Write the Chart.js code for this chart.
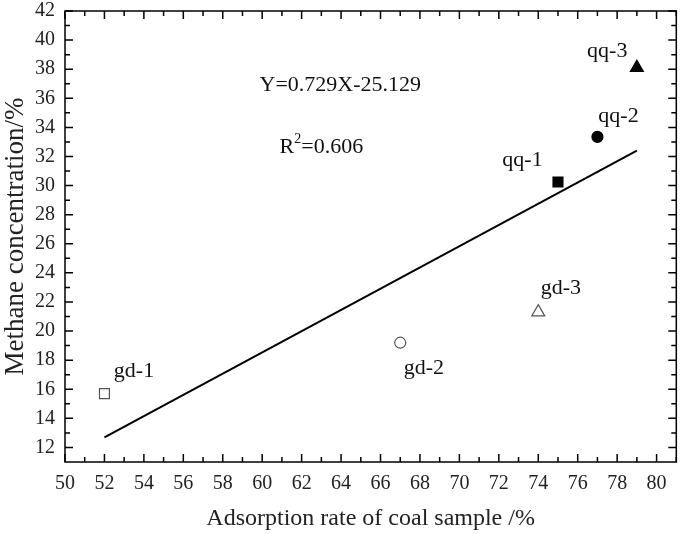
<!DOCTYPE html>
<html>
<head>
<meta charset="utf-8">
<script src="https://cdn.jsdelivr.net/npm/chart.js@4.4.0/dist/chart.umd.min.js"></script>
<style>
  html, body { margin: 0; padding: 0; background: #fff; }
  #wrap { width: 685px; height: 534px; }
</style>
</head>
<body>
<div id="wrap"><canvas id="scatter"></canvas></div>
<script>
// samples
const sampleNames = ["gd-1", "gd-2", "gd-3", "qq-1", "qq-2", "qq-3"];
const adsorption = [52, 67, 74, 75, 77, 79];
const methane = [15.7, 19.2, 21.3, 30.25, 33.35, 38.1];
const markerStyle = ["rect", "circle", "triangle", "rect", "circle", "triangle"];
const filled = [false, false, false, true, true, true];

// fitted line end points
const fitX = [52, 79];
const fitY = [12.7, 32.4];

// label positions (data coords)
const labelX = [53.5, 68.2, 75.15, 73.2, 78.07, 77.5];
const labelY = [17.26, 17.46, 22.96, 31.76, 34.78, 39.25];

const xTicks = [50, 52, 54, 56, 58, 60, 62, 64, 66, 68, 70, 72, 74, 76, 78, 80];
const yTicks = [12, 14, 16, 18, 20, 22, 24, 26, 28, 30, 32, 34, 36, 38, 40, 42];

const serif = "'Liberation Serif', 'DejaVu Serif', serif";

// frame + inward ticks + text labels
const framePlugin = {
    id: 'frame',
    afterDatasetsDraw(chart) {
        const ctx = chart.ctx;
        const a = chart.chartArea;
        const xs = chart.scales.x, ys = chart.scales.y;
        ctx.save();
        ctx.strokeStyle = '#000';
        ctx.lineWidth = 1.5;
        ctx.strokeRect(a.left, a.top, a.right - a.left, a.bottom - a.top);
        ctx.beginPath();
        for (let v = 50; v <= 81; v++) {
            const px = xs.getPixelForValue(v);
            const len = v % 2 === 0 ? 8 : 5;
            ctx.moveTo(px, a.bottom); ctx.lineTo(px, a.bottom - len);
            ctx.moveTo(px, a.top); ctx.lineTo(px, a.top + len);
        }
        for (let v = 12; v <= 42; v++) {
            const py = ys.getPixelForValue(v);
            const len = v % 2 === 0 ? 8 : 5;
            ctx.moveTo(a.left, py); ctx.lineTo(a.left + len, py);
            ctx.moveTo(a.right, py); ctx.lineTo(a.right - len, py);
        }
        ctx.stroke();

        ctx.fillStyle = '#111';
        ctx.font = "22px " + serif;
        ctx.textAlign = 'center';
        ctx.textBaseline = 'middle';
        sampleNames.forEach((n, i) => {
            ctx.fillText(n, xs.getPixelForValue(labelX[i]), ys.getPixelForValue(labelY[i]));
        });
        ctx.fillText("Y=0.729X-25.129", xs.getPixelForValue(63.96), ys.getPixelForValue(36.9));

        // R^2 label, centred
        const rx = xs.getPixelForValue(63.0), ry = ys.getPixelForValue(32.65);
        ctx.font = "22px " + serif;
        const wR = ctx.measureText("R").width;
        const wTail = ctx.measureText("=0.606").width;
        ctx.font = "14px " + serif;
        const wSup = ctx.measureText("2").width;
        let x0 = rx - (wR + wSup + wTail) / 2;
        ctx.textAlign = 'left';
        ctx.font = "22px " + serif;
        ctx.fillText("R", x0, ry);
        ctx.font = "14px " + serif;
        ctx.fillText("2", x0 + wR, ry - 8);
        ctx.font = "22px " + serif;
        ctx.fillText("=0.606", x0 + wR + wSup, ry);
        ctx.restore();
    }
};

const pointSets = sampleNames.map((n, i) => ({
    label: n,
    type: 'scatter',
    data: [{ x: adsorption[i], y: methane[i] }],
    pointStyle: markerStyle[i],
    pointRadius: markerStyle[i] === 'circle' ? 5.5 : (markerStyle[i] === 'rect' ? 7 : 7.5),
    pointBackgroundColor: filled[i] ? '#000' : 'rgba(0,0,0,0)',
    pointBorderColor: filled[i] ? '#000' : '#555',
    pointBorderWidth: 1.2
}));

const chart = new Chart(document.getElementById('scatter'), {
    type: 'scatter',
    data: {
        datasets: [{
            label: 'fit',
            type: 'line',
            data: fitX.map((x, i) => ({ x: x, y: fitY[i] })),
            borderColor: '#000',
            borderWidth: 2,
            pointRadius: 0,
            fill: false
        }].concat(pointSets)
    },
    options: {
        responsive: true,
        maintainAspectRatio: false,
        animation: false,
        layout: { padding: { top: 11, right: 1, left: 0, bottom: 0 } },
        plugins: { legend: { display: false }, tooltip: { enabled: false } },
        scales: {
            x: {
                type: 'linear',
                min: 50, max: 81,
                afterBuildTicks: (s) => { s.ticks = xTicks.map(v => ({ value: v })); },
                afterFit: (s) => { s.height = 72; s.paddingLeft = 0; s.paddingRight = 0; },
                grid: { display: false, drawTicks: false },
                border: { display: false },
                ticks: { color: '#222', font: { family: serif, size: 20 }, padding: 10, maxRotation: 0 },
                title: { display: true, text: 'Adsorption rate of coal sample /%', color: '#222',
                         font: { family: serif, size: 24 }, padding: { top: 4, bottom: 1 } }
            },
            y: {
                type: 'linear',
                min: 11, max: 42,
                afterBuildTicks: (s) => { s.ticks = yTicks.map(v => ({ value: v })); },
                afterFit: (s) => { s.width = 65; s.paddingTop = 0; s.paddingBottom = 0; },
                grid: { display: false, drawTicks: false },
                border: { display: false },
                ticks: { color: '#222', font: { family: serif, size: 20 }, padding: 10 },
                title: { display: true, text: 'Methane concentration/%', color: '#222',
                         font: { family: serif, size: 27 }, padding: { top: 0, bottom: 0 } }
            }
        }
    },
    plugins: [framePlugin]
});
</script>
</body>
</html>
